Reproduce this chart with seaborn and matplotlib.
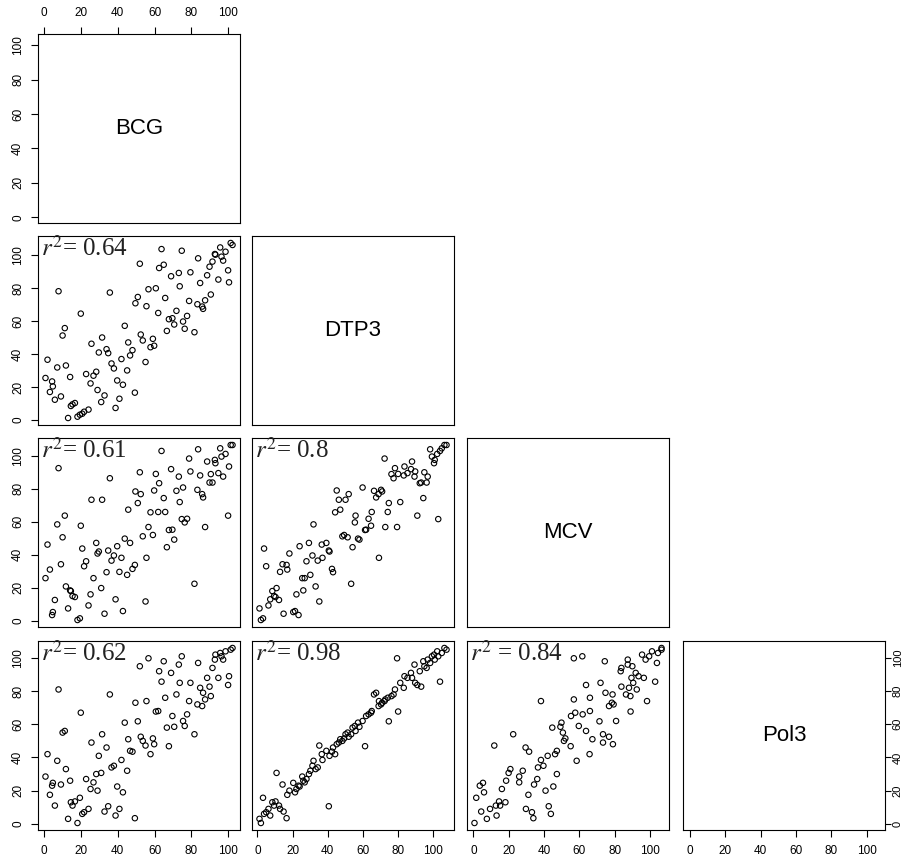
import pandas as pd
import matplotlib
matplotlib.use("Agg")
import matplotlib.pyplot as plt
import seaborn as sns

# Values, one entry per country (sorted by DTP3)
bcg = [13, 18.1, 19.4, 20.7, 21.7, 24.1, 38.8, 14.5, 15.4, 16.7,
       31, 5.8, 40.9, 9.1, 32.8, 49.3, 3.1, 29, 4.7, 42.8,
       25.2, 4.3, 39.7, 0.7, 14.1, 26.8, 22.8, 28.3, 45.1, 37.9,
       7.1, 11.8, 36.6, 55.1, 1.8, 42, 46.7, 34.8, 29.7, 48,
       33.9, 57.8, 59.8, 25.7, 45.7, 53.6, 59.1, 31.5, 10, 52.5,
       81.7, 66.7, 76.4, 11.2, 43.8, 70.7, 75.5, 67.8, 69.7, 77.7,
       19.9, 62, 71.9, 86.4, 85.9, 55.6, 83.3, 49.6, 78.8, 87.5,
       65.8, 50.9, 90.6, 35.7, 7.8, 56.7, 60.7, 73.7, 84.8, 100.5,
       94.7, 69, 88.6, 73.2, 79.5, 100, 62.5, 89.9, 65, 52,
       91.5, 97.3, 83.7, 96.4, 93.1, 92.8, 98.6, 74.8, 63.8, 95.7,
       102.4, 101.4]

dtp3 = [1.2, 2, 3.2, 3.8, 5, 6.3, 7.3, 8.5, 9.5, 10.3,
        10.9, 12.3, 12.9, 14.3, 14.9, 16.6, 17, 18.2, 20.4, 21.4,
        22.2, 23.4, 24, 25.5, 26.1, 26.9, 27.9, 29.3, 30.1, 31.3,
        31.9, 33.1, 34.3, 35.2, 36.6, 37, 39.2, 40.6, 41, 42.4,
        43, 44.2, 45.1, 46.3, 47.1, 48.3, 49.3, 50.1, 51.3, 51.9,
        53.3, 54.1, 55.4, 55.8, 57.2, 58, 59.8, 61.2, 61.8, 63.2,
        64.6, 65, 66.3, 67.5, 68.9, 69.1, 70.3, 70.9, 72.3, 72.7,
        74.1, 74.7, 76.2, 77.4, 78.2, 79.4, 80, 81.2, 83.2, 83.6,
        85.3, 87.3, 87.9, 89.3, 89.7, 90.9, 92.3, 93.1, 94.3, 94.9,
        96.2, 96.8, 98.2, 99.2, 100.4, 100.8, 102.2, 102.8, 103.8, 104.8,
        106.3, 107.5]

mcv = [7.6, 0.6, 1.6, 43.8, 33.1, 9.4, 13.1, 18.1, 15.1, 14.5,
       19.9, 12.7, 29.7, 34.3, 4.4, 33.9, 31.1, 40.8, 5.4, 6,
       16.1, 3.6, 45.2, 25.9, 18.5, 25.9, 36.1, 47.2, 27.9, 39.6,
       58.4, 20.9, 36.5, 11.8, 46.2, 38.2, 47.2, 42.6, 42, 31.5,
       29.5, 65.7, 78.9, 73.3, 67.3, 51.2, 52, 73.3, 50.6, 76.7,
       22.5, 44.6, 59.6, 63.7, 49.8, 49.2, 80.7, 55, 55.2, 61.8,
       57.6, 65.9, 78.7, 74.7, 76.7, 38.2, 79.3, 78.3, 98.2, 56.8,
       65.9, 71.3, 88.8, 86.3, 92.4, 56.8, 88.9, 71.9, 88, 93.4,
       89.4, 91.8, 96.4, 87.3, 90.4, 63.7, 83.3, 83.7, 74.3, 89.9,
       83.7, 87.3, 103.8, 99.4, 95.4, 97.4, 101, 61.6, 102.8, 104.4,
       106.4, 106.4]

pol3 = [3, 0.5, 15.7, 6, 7, 9, 5, 13, 11, 13.5,
        30.7, 11, 9, 23.7, 7.4, 3.4, 17.5, 20, 24.7, 19,
        21, 23, 22.5, 28.5, 26, 25, 27, 30, 32, 35,
        38, 33, 34, 47.2, 42, 38.5, 44, 10.6, 41, 43.5,
        46, 42, 48, 49, 51, 50, 51.5, 54, 55, 52.5,
        54, 58, 59, 56, 61, 58.5, 62, 46.8, 65, 66,
        67, 68, 78, 79, 71, 74, 72, 73, 74, 75,
        76, 61.8, 77, 78, 81, 99.8, 67.7, 85, 82, 89,
        88, 91, 88, 96, 85, 83.7, 92, 82.7, 98, 95,
        94, 99, 97, 101, 102, 99, 104, 101, 85.7, 103,
        106, 105]

names = ["BCG", "DTP3", "MCV", "Pol3"]
# r-squared labels for the lower panels, row by row
r2_labels = ["$r^2$= 0.64",
             "$r^2$= 0.61", "$r^2$= 0.8",
             "$r^2$= 0.62", "$r^2$= 0.98", "$r^2$ = 0.84"]

df = pd.DataFrame({"BCG": bcg, "DTP3": dtp3, "MCV": mcv, "Pol3": pol3})

sns.set_theme(style="ticks")
plt.rcParams["font.family"] = ["Liberation Sans", "DejaVu Sans"]
plt.rcParams["mathtext.fontset"] = "stix"

W, H = 908, 858
fig = plt.figure(figsize=(W / 100, H / 100), dpi=100)
fig.patch.set_facecolor("white")

lefts = [38, 252, 467, 683]
tops = [34, 236, 438, 641]
pw, ph = 202, 189

# axis limits like R: data range plus 4%
lims = {}
for n in names:
    lo, hi = df[n].min(), df[n].max()
    pad = 0.04 * (hi - lo)
    lims[n] = (lo - pad, hi + pad)

ticks = [0, 20, 40, 60, 80, 100]
k = 0
for i in range(4):
    for j in range(i + 1):
        ax = fig.add_axes([lefts[j] / W, 1 - (tops[i] + ph) / H, pw / W, ph / H])
        ax.set_facecolor("white")
        if i == j:
            ax.text(0.5, 0.5, names[i], transform=ax.transAxes,
                    ha="center", va="center", fontsize=16, color="black")
        else:
            sns.scatterplot(x=df[names[j]], y=df[names[i]], ax=ax,
                            marker="o", s=15, facecolor="none",
                            edgecolor="black", linewidth=0.8)
            ax.text(0.015, 1.0, r2_labels[k], transform=ax.transAxes,
                    ha="left", va="top", fontsize=18, color="#222222",
                    family=["Liberation Serif", "DejaVu Serif"])
            k += 1
        ax.set_xlim(lims[names[j]])
        ax.set_ylim(lims[names[i]])
        ax.set_xlabel("")
        ax.set_ylabel("")
        for sp in ax.spines.values():
            sp.set_visible(True)
            sp.set_color("black")
            sp.set_linewidth(0.8)

        ax.set_xticks(ticks)
        ax.set_yticks(ticks)
        show_bottom = i == 3
        show_top = i == 0 and j == 0
        show_left = j == 0
        show_right = i == 3 and j == 3
        ax.tick_params(axis="x", bottom=show_bottom, labelbottom=show_bottom,
                       top=show_top, labeltop=show_top, direction="out",
                       length=5, width=0.8, pad=6, labelsize=8.5, colors="black")
        ax.tick_params(axis="y", left=show_left, labelleft=show_left,
                       direction="out", length=5, width=0.8, pad=5,
                       labelsize=8.5, labelrotation=90, colors="black")
        if show_right:
            # right-hand axis sits close to the figure edge, keep labels inside
            ax.tick_params(axis="y", right=True, labelright=True,
                           length=4, pad=1.5, labelsize=8)
        for lab in ax.get_yticklabels():
            lab.set_va("center")

fig.savefig("out.png", dpi=100)
